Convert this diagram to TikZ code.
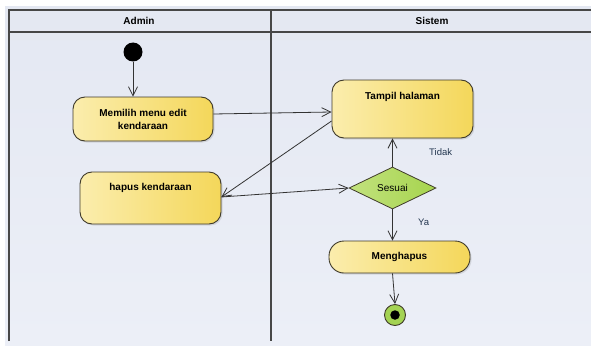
\documentclass[tikz,border=0pt]{standalone}
\usepackage{fontspec}
\setmainfont{Liberation Sans}
\usetikzlibrary{arrows.meta,shapes.geometric,shadows,calc}

\definecolor{paneltop}{HTML}{E4E8F2}
\definecolor{panelbot}{HTML}{ECEFF7}
\definecolor{laneline}{HTML}{474747}
\definecolor{actL}{HTML}{FBEDAD}
\definecolor{actR}{HTML}{F4D75A}
\definecolor{actborder}{HTML}{3F3A2A}
\definecolor{decL}{HTML}{C2E27E}
\definecolor{decR}{HTML}{A6D44E}
\definecolor{finalfill}{HTML}{A4D353}
\definecolor{guardtxt}{HTML}{23364F}

\tikzset{
  acttext/.style={font=\bfseries\fontsize{10}{13}\selectfont},
  actbox/.style={draw=actborder, line width=0.9pt, rounded corners=12pt,
    left color=actL, right color=actR,
    drop shadow={shadow xshift=1.5pt, shadow yshift=-1.5pt, opacity=0.22},
    acttext, align=center, inner sep=0pt},
  decbox/.style={draw=actborder, line width=0.8pt, diamond, aspect=2, inner sep=0pt,
    left color=decL, right color=decR,
    font=\fontsize{10}{12}\selectfont},
  flow/.style={draw=black!80, line width=0.8pt,
    -{Straight Barb[length=9pt,width=9pt,line width=0.8pt]}},
  lane/.style={draw=laneline, line width=1.4pt},
  lanehead/.style={font=\bfseries\fontsize{10}{12}\selectfont},
  guard/.style={font=\fontsize{9.5}{11}\selectfont, text=guardtxt},
}

\begin{document}
\begin{tikzpicture}[x=1pt,y=-1pt]
  \useasboundingbox (0,0) rectangle (591,345);
  \fill[white] (0,0) rectangle (591,345);
  \shade[top color=paneltop, bottom color=panelbot] (5,7) rectangle (591,345);

  % swimlane frame
  \draw[lane] (9,341) -- (9,10) -- (591,10);
  \draw[lane] (9,32) -- (591,32);
  \draw[lane] (271,10) -- (271,341);
  \node[lanehead] (hAdmin) at (139,21) {Admin};
  \node[lanehead] (hSistem) at (432,21) {Sistem};

  % start / end
  \node[circle, fill=black, minimum size=19pt, inner sep=0pt] (start) at (133,52) {};
  \node[circle, draw=actborder, line width=0.9pt, fill=finalfill, minimum size=21pt, inner sep=0pt] (stop) at (395,315) {};
  \node[circle, fill=black, minimum size=9.5pt, inner sep=0pt] (stopdot) at (395,315) {};

  % actions
  \node[actbox, minimum width=140pt, minimum height=44pt] (memilih) at (143,119)
    {Memilih menu edit\\kendaraan};
  \node[actbox, minimum width=141pt, minimum height=52pt,
    label={[acttext, anchor=north, yshift=-8pt]north:hapus kendaraan}]
    (hapus) at (150.5,198) {};
  \node[actbox, minimum width=141pt, minimum height=58pt,
    label={[acttext, anchor=north, yshift=-9.5pt]north:Tampil halaman}]
    (tampil) at (402.5,109) {};
  \node[actbox, rounded corners=15pt, minimum width=141pt, minimum height=32pt] (hapusdata) at (399.5,257)
    {Menghapus};

  % decision
  \node[decbox, minimum width=87pt, minimum height=42pt] (sesuai) at (392.5,188) {Sesuai};

  % flows
  \draw[flow] (start) -- (start |- memilih.north);
  \draw[flow] ($(memilih.east)+(0,-5)$) -- ($(tampil.west)+(0,3)$);
  \draw[flow] ($(tampil.west)+(0,12)$) -- ($(hapus.east)+(0,-1)$);
  \draw[flow] ($(hapus.east)+(0,-1)$) -- (sesuai.west);
  \draw[flow] (sesuai.north) -- (sesuai.north |- tampil.south)
    node[guard, pos=0.5, right=33pt] (tidak) {Tidak};
  \draw[flow] (sesuai.south) -- (sesuai.south |- hapusdata.north)
    node[guard, pos=0.4, right=22pt] (ya) {Ya};
  \draw[flow] (sesuai.south |- hapusdata.south) -- (stop.north);
\end{tikzpicture}
\end{document}
